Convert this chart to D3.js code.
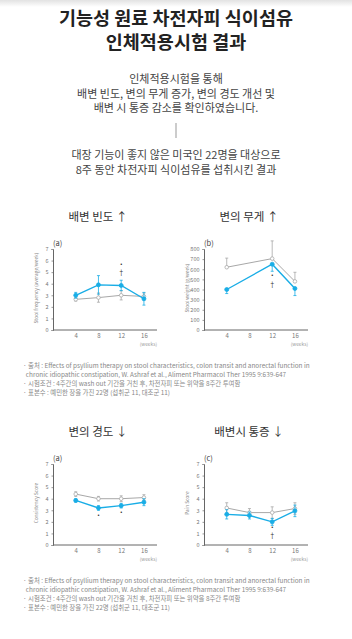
<!DOCTYPE html>
<html>
<head>
<meta charset="utf-8">
<script src="https://cdn.jsdelivr.net/npm/d3@7"></script>
<style>
  body { margin: 0; background: #fff; }
  text { font-family: "Noto Sans CJK KR", "Noto Sans", sans-serif; }
</style>
</head>
<body>
<script>
const width = 352
const height = 639

// ---- data ----
const weeks = [4, 8, 12, 16]
const weightWeeks = [4, 12, 16]

const freqPsyllium = [3.0, 3.9, 3.85, 2.7]
const freqPsylliumErr = [0.25, 0.8, 0.45, 0.55]
const freqPlacebo = [2.65, 2.8, 3.0, 2.9]
const freqPlaceboErr = [0.15, 0.4, 0.4, 0.3]

const weightPsyllium = [400, 650, 410]
const weightPsylliumErr = [40, 70, 70]
const weightPlacebo = [620, 705, 480]
const weightPlaceboErr = [90, 175, 90]

const consPsyllium = [3.85, 3.2, 3.4, 3.7]
const consPsylliumErr = [0.15, 0.2, 0.2, 0.3]
const consPlacebo = [4.4, 4.0, 4.0, 4.1]
const consPlaceboErr = [0.2, 0.2, 0.25, 0.25]

const painPsyllium = [2.65, 2.55, 2.0, 2.95]
const painPsylliumErr = [0.4, 0.3, 0.3, 0.5]
const painPlacebo = [3.2, 2.8, 2.8, 3.15]
const painPlaceboErr = [0.45, 0.35, 0.5, 0.5]

const titleLines = ['기능성 원료 차전자피 식이섬유', '인체적용시험 결과']
const introLines = ['인체적용시험을 통해', '배변 빈도, 변의 무게 증가, 변의 경도 개선 및', '배변 시 통증 감소를 확인하였습니다.']
const studyLines = ['대장 기능이 좋지 않은 미국인 22명을 대상으로', '8주 동안 차전자피 식이섬유를 섭취시킨 결과']
const noteLines = [
  '· 출처 : Effects of psyllium therapy on stool characteristics, colon transit and anorectal function in',
  '  chronic idiopathic constipation, W. Ashraf et al., Aliment Pharmacol Ther 1995 9:639-647',
  '· 시험조건 : 4주간의 wash out 기간을 거친 후, 차전자피 또는 위약을 8주간 투여함',
  '· 표본수 : 예민한 장을 가진 22명 (섭취군 11, 대조군 11)'
]

const blue = '#19ade6'
const grey = '#a8a8a8'

const svg = d3.select('body').append('svg')
  .attr('width', width)
  .attr('height', height)

// top shadow
const defs = svg.append('defs')
const grad = defs.append('linearGradient').attr('id', 'shade').attr('x1', 0).attr('x2', 0).attr('y1', 0).attr('y2', 1)
grad.append('stop').attr('offset', 0).attr('stop-color', '#e2e2e2')
grad.append('stop').attr('offset', 1).attr('stop-color', '#fff')
svg.append('rect').attr('width', width).attr('height', 7).attr('fill', 'url(#shade)')

// header text
svg.append('g').selectAll('text')
  .data(titleLines)
  .enter().append('text')
    .attr('x', width / 2)
    .attr('y', (d, i) => 25 + i * 24)
    .attr('text-anchor', 'middle')
    .attr('font-size', 18.5)
    .attr('font-weight', 700)
    .attr('fill', '#222')
    .text(d => d)

svg.append('g').selectAll('text')
  .data(introLines)
  .enter().append('text')
    .attr('x', width / 2)
    .attr('y', (d, i) => 83 + i * 14.5)
    .attr('text-anchor', 'middle')
    .attr('font-size', 11)
    .attr('fill', '#444')
    .text(d => d)

svg.append('line')
  .attr('x1', 176).attr('x2', 176)
  .attr('y1', 123).attr('y2', 138)
  .attr('stroke', '#999').attr('stroke-width', 1)

svg.append('g').selectAll('text')
  .data(studyLines)
  .enter().append('text')
    .attr('x', width / 2)
    .attr('y', (d, i) => 159 + i * 15)
    .attr('text-anchor', 'middle')
    .attr('font-size', 11)
    .attr('fill', '#444')
    .text(d => d)

// ---- small charts ----
function drawPanel(opt){
  const g = svg.append('g')
  const x = d3.scaleLinear().domain([0, 18.3]).range([opt.left, opt.left + 104])
  const y = d3.scaleLinear().domain(opt.yDomain).range([opt.bottom, opt.bottom - 81])

  g.append('text')
    .attr('x', opt.left + 45).attr('y', opt.bottom - 109)
    .attr('text-anchor', 'middle')
    .attr('font-size', 11.5)
    .attr('fill', '#333')
    .text(opt.title)

  g.append('text')
    .attr('x', opt.left).attr('y', opt.bottom - 84)
    .attr('font-size', 7.5)
    .attr('fill', '#444')
    .text(opt.tag)

  const yAxis = g.append('g')
    .attr('transform', `translate(${opt.left},0)`)
    .call(d3.axisLeft(y).tickValues(opt.yTicks).tickFormat(d3.format('d')).tickSize(1.5).tickPadding(3))
  const xAxis = g.append('g')
    .attr('transform', `translate(0,${opt.bottom})`)
    .call(d3.axisBottom(x).tickValues(opt.xTicks).tickSize(0).tickPadding(3.5))
  ;[yAxis, xAxis].forEach(a => {
    a.select('.domain').attr('stroke', '#666').attr('stroke-width', 1)
    a.selectAll('.tick line').attr('stroke', '#999')
    a.selectAll('.tick text').attr('fill', '#777').attr('font-size', 5.5)
  })
  xAxis.select('.domain').attr('d', `M${opt.left},0H${opt.left + 104}`)
  xAxis.selectAll('.tick text').attr('font-size', 6)

  g.append('text')
    .attr('x', opt.left + 104).attr('y', opt.bottom + 15.5)
    .attr('text-anchor', 'end')
    .attr('font-size', 4.8)
    .attr('fill', '#999')
    .text('(weeks)')

  g.append('text')
    .attr('transform', `translate(${opt.left - 15},${opt.bottom - 42}) rotate(-90)`)
    .attr('text-anchor', 'middle')
    .attr('font-size', 4.8)
    .attr('fill', '#888')
    .text(opt.yLabel)

  const line = d3.line().x(d => x(d.w)).y(d => y(d.v))

  opt.series.forEach(s => {
    const pts = s.values.map((v, i) => ({w: opt.xValues[i], v: v, e: s.err[i]}))
    g.append('g').selectAll('path')
      .data(pts)
      .enter().append('path')
        .attr('fill', 'none')
        .attr('stroke', s.color)
        .attr('stroke-width', 0.8)
        .attr('d', d => {
          const lo = s.dir === 'up' ? d.v : d.v - d.e
          const hi = s.dir === 'down' ? d.v : d.v + d.e
          const cx = x(d.w)
          let p = `M${cx},${y(lo)}V${y(hi)}`
          if (s.dir !== 'down') p += `M${cx - 1.5},${y(hi)}h3`
          if (s.dir !== 'up') p += `M${cx - 1.5},${y(lo)}h3`
          return p
        })
    g.append('path')
      .datum(pts)
      .attr('fill', 'none')
      .attr('stroke', s.color)
      .attr('stroke-width', s.filled ? 1.4 : 1)
      .attr('d', line)
    g.append('g').selectAll('circle')
      .data(pts)
      .enter().append('circle')
        .attr('cx', d => x(d.w))
        .attr('cy', d => y(d.v))
        .attr('r', s.filled ? 2 : 1.8)
        .attr('fill', s.filled ? s.color : '#fff')
        .attr('stroke', s.color)
        .attr('stroke-width', 0.8)
  })

  g.append('g').selectAll('text')
    .data(opt.marks)
    .enter().append('text')
      .attr('x', d => x(d.w))
      .attr('y', d => y(d.v))
      .attr('text-anchor', 'middle')
      .attr('dy', '0.35em')
      .attr('font-size', d => d.s === '†' ? 6.5 : 6)
      .attr('fill', '#333')
      .text(d => d.s)
}

drawPanel({
  left: 53, bottom: 330, title: '배변 빈도 ↑', tag: '(a)',
  yDomain: [0, 7], yTicks: d3.range(0, 8), xTicks: weeks, xValues: weeks,
  yLabel: 'Stool frequency (average/week)',
  series: [
    {values: freqPlacebo, err: freqPlaceboErr, color: grey, filled: false, dir: 'both'},
    {values: freqPsyllium, err: freqPsylliumErr, color: blue, filled: true, dir: 'both'}
  ],
  marks: [{w: 12, v: 5.75, s: '•'}, {w: 12, v: 4.95, s: '†'}]
})

drawPanel({
  left: 204, bottom: 330, title: '변의 무게 ↑', tag: '(b)',
  yDomain: [0, 800], yTicks: d3.range(0, 900, 100), xTicks: weeks, xValues: weightWeeks,
  yLabel: 'Stool weight (g/week)',
  series: [
    {values: weightPlacebo, err: weightPlaceboErr, color: grey, filled: false, dir: 'up'},
    {values: weightPsyllium, err: weightPsylliumErr, color: blue, filled: true, dir: 'down'}
  ],
  marks: [{w: 12, v: 540, s: '•'}, {w: 12, v: 445, s: '†'}]
})

drawPanel({
  left: 53, bottom: 545, title: '변의 경도 ↓', tag: '(a)',
  yDomain: [0, 7], yTicks: d3.range(0, 8), xTicks: weeks, xValues: weeks,
  yLabel: 'Consistency Score',
  series: [
    {values: consPlacebo, err: consPlaceboErr, color: grey, filled: false, dir: 'both'},
    {values: consPsyllium, err: consPsylliumErr, color: blue, filled: true, dir: 'both'}
  ],
  marks: [{w: 8, v: 2.6, s: '•'}, {w: 12, v: 2.9, s: '•'}]
})

drawPanel({
  left: 204, bottom: 545, title: '배변시 통증 ↓', tag: '(c)',
  yDomain: [0, 7], yTicks: d3.range(0, 8), xTicks: weeks, xValues: weeks,
  yLabel: 'Pain Score',
  series: [
    {values: painPlacebo, err: painPlaceboErr, color: grey, filled: false, dir: 'both'},
    {values: painPsyllium, err: painPsylliumErr, color: blue, filled: true, dir: 'both'}
  ],
  marks: [{w: 12, v: 1.6, s: '•'}, {w: 12, v: 0.8, s: '†'}]
})

// footnotes
;[366, 581].forEach(top => {
  svg.append('g').selectAll('text')
    .data(noteLines)
    .enter().append('text')
      .attr('x', 23)
      .attr('y', (d, i) => top + 2 + i * 9)
      .attr('font-size', 6.4)
      .attr('fill', '#888')
      .style('white-space', 'pre')
      .text(d => d)
})
</script>
</body>
</html>
